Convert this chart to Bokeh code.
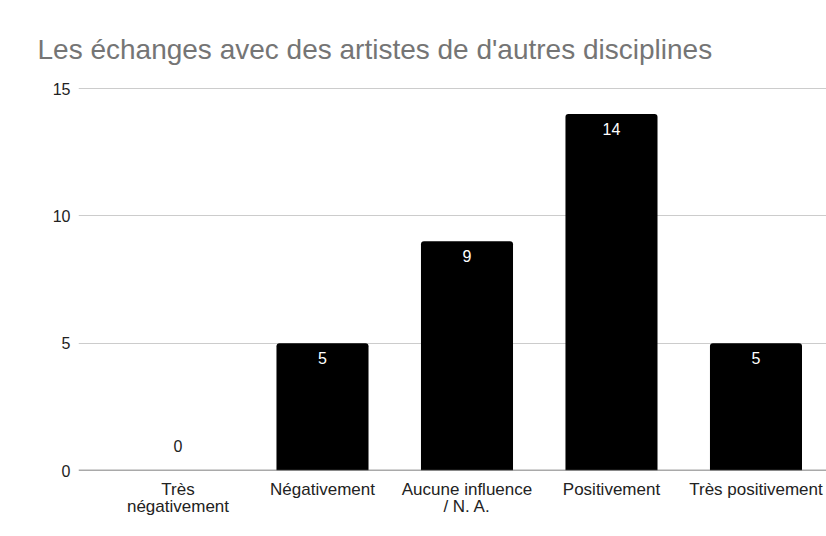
from bokeh.plotting import figure
from bokeh.models import (ColumnDataSource, FixedTicker, Span, Range1d, Title, Spacer)
from bokeh.layouts import row, column
from bokeh.core.properties import value
from bokeh.embed import file_html
from bokeh.resources import INLINE

title_text = "Les échanges avec des artistes de d'autres disciplines"
categories = ["Très\nnégativement", "Négativement", "Aucune influence\n/ N. A.",
              "Positivement", "Très positivement"]
counts = [0, 5, 9, 14, 5]
y_ticks = [0, 5, 10, 15]

FONT = "Liberation Sans"

xs = list(range(len(categories)))
inside = [c > 0 for c in counts]
src = ColumnDataSource(dict(
    x=xs,
    top=counts,
    label=[str(c) for c in counts],
    color=["#ffffff" if i else "#222222" for i in inside],
    yoff=[15 if i else -25 for i in inside],
))

p = figure(width=812, height=529, output_backend="svg", toolbar_location=None,
           x_range=Range1d(-0.6886, 4.488), y_range=Range1d(0, 15.2),
           min_border_left=64, min_border_right=0, min_border_top=76,
           min_border_bottom=66)
p.outline_line_color = None
p.background_fill_color = "#ffffff"
p.border_fill_color = "#ffffff"

p.title = Title(text=title_text, text_font=FONT, text_font_size="28px",
                text_font_style="normal", text_color="#757575",
                align="left", offset=-41, standoff=37)

p.vbar(x="x", top="top", bottom=0, width=0.637, source=src,
       fill_color="#000000", line_color=None,
       border_radius=(3, 3, 0, 0))

p.text(x="x", y="top", text="label", source=src, y_offset="yoff",
       text_color="color", text_align="center", text_baseline="middle",
       text_font=value(FONT), text_font_size="16px")

p.add_layout(Span(location=0, dimension="width", line_color="#555555",
                  line_width=1.5))

p.ygrid.grid_line_color = "#cccccc"
p.ygrid.grid_line_width = 1
p.xgrid.grid_line_color = None

p.yaxis.ticker = FixedTicker(ticks=y_ticks)
p.yaxis.axis_line_color = None
p.yaxis.major_tick_line_color = None
p.yaxis.minor_tick_line_color = None
p.yaxis.major_label_standoff = 2
p.yaxis.major_label_text_font = FONT
p.yaxis.major_label_text_font_size = "16px"
p.yaxis.major_label_text_color = "#222222"

p.xaxis.ticker = FixedTicker(ticks=xs)
p.xaxis.major_label_overrides = {i: c for i, c in zip(xs, categories)}
p.xaxis.axis_line_color = None
p.xaxis.major_tick_line_color = None
p.xaxis.minor_tick_line_color = None
p.xaxis.major_label_standoff = 3
p.xaxis.major_label_text_font = FONT
p.xaxis.major_label_text_font_size = "17px"
p.xaxis.major_label_text_line_height = 0.9
p.xaxis.major_label_text_color = "#222222"

layout = column(Spacer(width=826, height=7),
                row(Spacer(width=14, height=529), p))

html = file_html(layout, INLINE)
html = html.replace("<body>", '<body style="background:#f7f7f7">', 1)
open("out.html", "w").write(html)
